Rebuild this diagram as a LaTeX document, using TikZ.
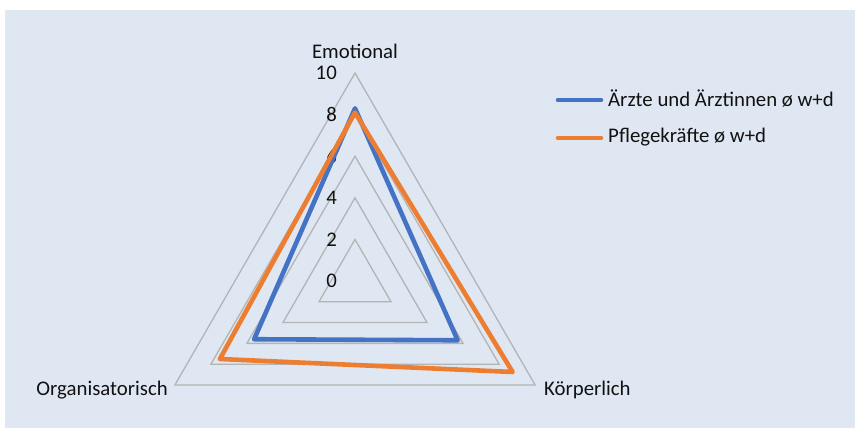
\documentclass[tikz,border=0pt]{standalone}
\usepackage{fontspec}
\setmainfont{Carlito}
\definecolor{bgblue}{HTML}{DFE8F2}
\definecolor{gridgrey}{HTML}{B4B4B4}
\definecolor{serblue}{HTML}{4472C4}
\definecolor{serorange}{HTML}{ED7D31}
\definecolor{txt}{HTML}{111111}
\tikzset{
  gridline/.style={draw=gridgrey, line width=1.3pt},
  series/.style={line width=4.6pt, line join=round},
  legline/.style={line width=4.6pt, line cap=round},
  lbl/.style={font=\fontsize{20.8}{23}\selectfont, text=txt, inner sep=0pt},
  ticklbl/.style={lbl, anchor=east},
}
\begin{document}
\begin{tikzpicture}[x=1pt,y=1pt]
\useasboundingbox (0,0) rectangle (855,428);
\fill[white] (0,0) rectangle (855,428);
\fill[bgblue] (5,0) rectangle (855,418);
\begin{scope}[shift={(355,147)}]
  \def\u{20.8}
  % grid rings
  \foreach \v in {2,4,6,8,10}{
    \draw[gridline] (90:{\v*\u}) -- (-30:{\v*\u}) -- (210:{\v*\u}) -- cycle;
  }
  % tick labels
  \foreach \v in {0,2,4,6,8,10}{
    \node[ticklbl] (t\v) at (-18,{\v*\u}) {\v};
  }
  % series
  \coordinate (aE) at (90:{8.3*\u});
  \coordinate (aK) at (-30:{5.7*\u});
  \coordinate (aO) at (210:{5.6*\u});
  \coordinate (pE) at (90:{8.1*\u});
  \coordinate (pK) at (-30:{8.75*\u});
  \coordinate (pO) at (210:{7.5*\u});
  \draw[series, serblue] (aE) -- (aK) -- (aO) -- cycle;
  \draw[series, serorange] (pE) -- (pK) -- (pO) -- cycle;
  % axis labels
  \node[lbl, anchor=south] (lE) at (90:{10*\u+14}) {Emotional};
  \coordinate (vK) at (-30:{10*\u});
  \coordinate (vO) at (210:{10*\u});
\end{scope}
\node[lbl, anchor=west] (lK) at (544,38) {Körperlich};
\node[lbl, anchor=east] (lO) at (168,38) {Organisatorisch};
% legend
\coordinate (la1) at (558,328);
\coordinate (la2) at (601,328);
\coordinate (lb1) at (558,290);
\coordinate (lb2) at (601,290);
\draw[legline, serblue] (la1) -- (la2);
\draw[legline, serorange] (lb1) -- (lb2);
\node[lbl, anchor=west] (leg1) at (608,329) {Ärzte und Ärztinnen ø w+d};
\node[lbl, anchor=west] (leg2) at (608,291) {Pflegekräfte ø w+d};
\end{tikzpicture}
\end{document}
